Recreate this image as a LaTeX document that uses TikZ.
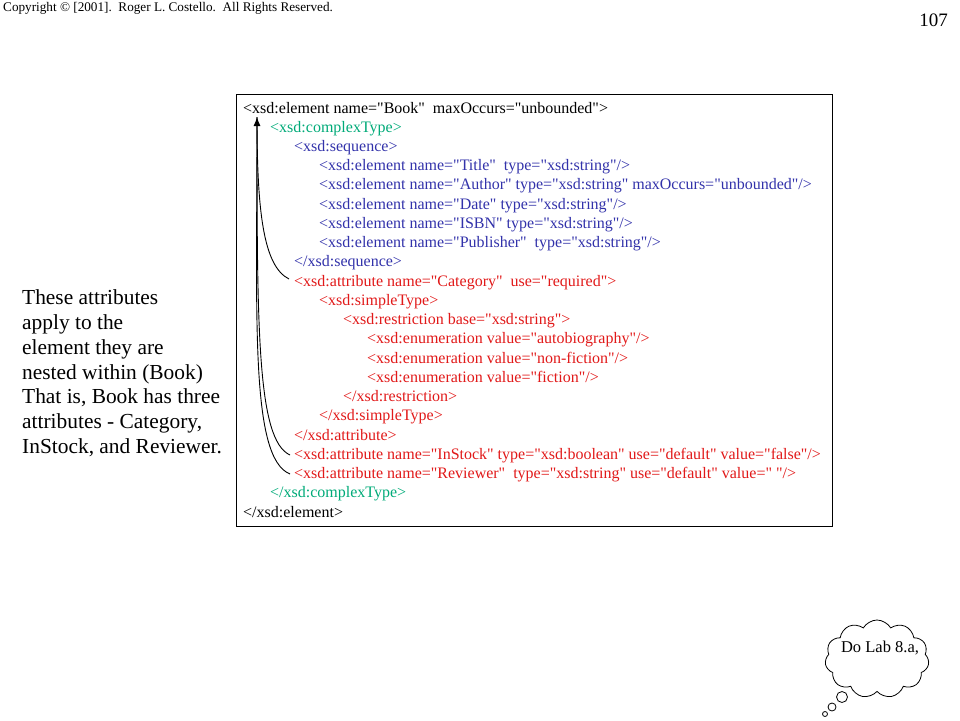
\documentclass[tikz,border=0pt]{standalone}
\usepackage{fontspec}
\setmainfont{Liberation Serif}
\newfontfamily\codefont{Liberation Serif}
\usetikzlibrary{shapes.symbols,arrows.meta}
\definecolor{xblack}{RGB}{0,0,0}
\definecolor{xteal}{RGB}{0,170,120}
\definecolor{xblue}{RGB}{50,50,170}
\definecolor{xred}{RGB}{225,25,25}
\tikzset{
  code/.style={anchor=base west,inner sep=0pt,font=\codefont\fontsize{16}{18}\selectfont},
  note/.style={anchor=base west,inner sep=0pt,font=\fontsize{21.4}{24}\selectfont},
  link/.style={line width=0.9pt},
}
\begin{document}
\begin{tikzpicture}[x=1pt,y=-1pt]
\useasboundingbox (0,0) rectangle (960,720);
\node[anchor=base west,inner sep=0pt,font=\fontsize{13.2}{14}\selectfont] (copy) at (3,11) {Copyright \textcopyright\ [2001].\ \ Roger L. Costello.\ \ All\ Rights Reserved.};
\node[anchor=base east,inner sep=0pt,font=\fontsize{19}{20}\selectfont] (num) at (948,27) {107};
\draw[line width=0.8pt] (236,94) rectangle (832,526);
% code lines
\def\bl#1{113+#1*19.24}
\node[code,text=xblack] (l0) at (243,{\bl{0}}) {<xsd:element name="Book"\ \ maxOccurs="unbounded">};
\node[code,text=xteal] (l1) at (270,{\bl{1}}) {<xsd:complexType>};
\node[code,text=xblue] (l2) at (294,{\bl{2}}) {<xsd:sequence>};
\node[code,text=xblue] (l3) at (319,{\bl{3}}) {<xsd:element name="Title"\ \ type="xsd:string"/>};
\node[code,text=xblue] (l4) at (319,{\bl{4}}) {<xsd:element name="Author" type="xsd:string" maxOccurs="unbounded"/>};
\node[code,text=xblue] (l5) at (319,{\bl{5}}) {<xsd:element name="Date" type="xsd:string"/>};
\node[code,text=xblue] (l6) at (319,{\bl{6}}) {<xsd:element name="ISBN" type="xsd:string"/>};
\node[code,text=xblue] (l7) at (319,{\bl{7}}) {<xsd:element name="Publisher"\ \ type="xsd:string"/>};
\node[code,text=xblue] (l8) at (294,{\bl{8}}) {</xsd:sequence>};
\node[code,text=xred] (l9) at (294,{\bl{9}}) {<xsd:attribute name="Category"\ \ use="required">};
\node[code,text=xred] (l10) at (319,{\bl{10}}) {<xsd:simpleType>};
\node[code,text=xred] (l11) at (343,{\bl{11}}) {<xsd:restriction base="xsd:string">};
\node[code,text=xred] (l12) at (367,{\bl{12}}) {<xsd:enumeration value="autobiography"/>};
\node[code,text=xred] (l13) at (367,{\bl{13}}) {<xsd:enumeration value="non-fiction"/>};
\node[code,text=xred] (l14) at (367,{\bl{14}}) {<xsd:enumeration value="fiction"/>};
\node[code,text=xred] (l15) at (343,{\bl{15}}) {</xsd:restriction>};
\node[code,text=xred] (l16) at (319,{\bl{16}}) {</xsd:simpleType>};
\node[code,text=xred] (l17) at (294,{\bl{17}}) {</xsd:attribute>};
\node[code,text=xred] (l18) at (294,{\bl{18}}) {<xsd:attribute name="InStock" type="xsd:boolean" use="default" value="false"/>};
\node[code,text=xred] (l19) at (294,{\bl{19}}) {<xsd:attribute name="Reviewer"\ \ type="xsd:string" use="default" value="\ "/>};
\node[code,text=xteal] (l20) at (270,{\bl{20}}) {</xsd:complexType>};
\node[code,text=xblack] (l21) at (243,{\bl{21}}) {</xsd:element>};
% arrows
\coordinate (tip) at (257,117);
\coordinate (cat) at (289,279);
\coordinate (ins) at (290,455);
\coordinate (rev) at (290,474);
\draw[link] (cat) .. controls (263,266) and (257,210) .. (tip);
\draw[link] (ins) .. controls (257,440) and (257,330) .. (tip);
\draw[link,-{Latex[length=9pt,width=7pt]}] (rev) .. controls (250,458) and (257,320) .. (tip);
% note
\node[note] (n1) at (22,304) {These attributes};
\node[note] (n2) at (22,329) {apply to the};
\node[note] (n3) at (22,354) {element they are};
\node[note] (n4) at (22,379) {nested within (Book)};
\node[note] (n5) at (22,403) {That is, Book has three};
\node[note] (n6) at (22,428) {attributes - Category,};
\node[note] (n7) at (22,453) {InStock, and Reviewer.};
% thought cloud
\node[cloud,draw,line width=0.8pt,cloud puffs=11,cloud puff arc=120,minimum width=104pt,minimum height=78pt,inner sep=0pt] (cl) at (877,659) {};
\node[inner sep=0pt,font=\fontsize{16.5}{18}\selectfont] (lab) at (880,648) {Do Lab 8.a,};
\draw[line width=0.8pt] (842,697) circle (5.5);
\draw[line width=0.8pt] (832,707) circle (4);
\draw[line width=0.8pt] (825,714) circle (2.5);
\end{tikzpicture}
\end{document}
